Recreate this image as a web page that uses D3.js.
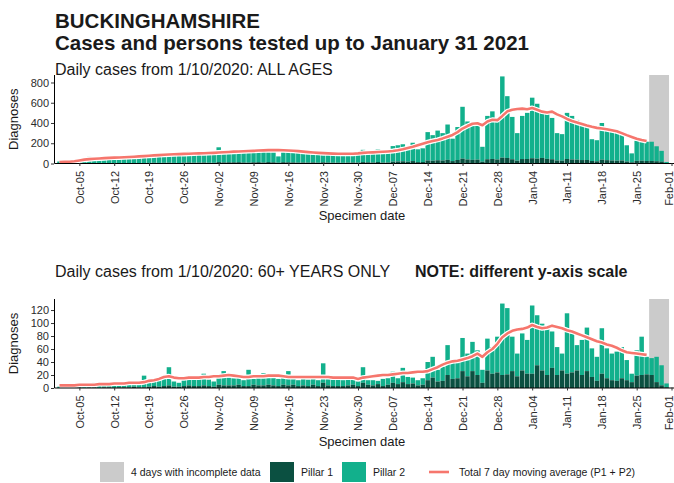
<!DOCTYPE html>
<html><head><meta charset="utf-8">
<script src="https://cdn.jsdelivr.net/npm/d3@7"></script>
<style>body{margin:0;background:#fff}svg{display:block;font-family:"Liberation Sans",Arial,sans-serif}</style>
</head><body><svg id="c" width="674" height="483"></svg>
<script>
// ---------- DATA (daily, starting 1 Oct 2020) ----------
const firstDay = "2020-10-01";
const allAgesPillar1 = [1,1,2,1,2,3,3, 2,3,3,2,4,4,3, 4,5,4,3,6,7,6, 7,8,6,5,9,10,8, 9,10,8,7,14,11,12,
  12,13,10,9,12,13,10, 14,12,8,13,12,11,9, 10,9,11,8,12,9,8, 8,7,9,10,9,14,12, 10,15,9,10,18,20,22,
  18,24,14,15,30,28,32, 30,36,24,35,48,40,36, 38,18,42,45,40,58,55, 42,28,44,45,52,48,55,
  46,42,30,28,45,40,38, 34,35,25,22,38,33,30, 28,30,20,12,26,28,25, 25,22,18,4];
const allAgesPillar2 = [19,14,23,29,33,42,62, 43,47,52,46,51,58,57, 66,67,56,55,74,83,79, 81,84,74,70,91,105,87,
  91,100,90,83,146,104,100, 108,112,100,126,116,117,105, 121,118,62,127,123,114,101, 100,91,94,87,108,89,84,
  87,83,83,90,89,121,83, 88,125,91,95,154,160,168, 142,181,126,135,280,252,293, 270,349,221,325,512,375,349,
  337,147,428,470,400,802,610, 418,272,426,455,598,542,465, 459,408,270,262,455,430,392,
  346,335,215,208,362,307,300, 272,260,160,88,199,192,190, 190,148,107,11];
const allAgesAvg = [15,16,18,22,30,38,43,47,50,53, 56,58,60,62,64,67,70,73,77,80, 83,86,89,91,93,95,97,99,100,101,
  103,105,108,111,114,117,119,121,123,125, 128,130,132,133,132,131,129,126,122,117, 112,108,105,102,100,98,97,96,96,97,
  100,105,108,110,113,116,119,123,130,140, 152,165,180,195,210,222,233,248,265,282, 310,345,370,392,398,378,415,432,428,470,
  515,530,538,542,536,548,530,512,504,512, 485,465,440,420,405,390,375,362,352,345, 338,328,318,300,280,262,245,232,222];

const over60Pillar1 = [0,1,0,0,1,0,1, 1,0,1,1,0,1,1, 1,2,1,1,2,3,2, 3,4,2,2,3,4,3, 3,4,3,2,5,4,4,
  4,5,3,3,5,4,4, 5,4,3,5,4,5,3, 4,3,5,3,8,4,3, 3,3,4,5,3,8,5, 4,6,3,5,8,6,9,
  6,7,4,5,12,16,10, 11,20,14,15,26,18,26, 20,8,27,22,24,20,21, 26,18,27,22,22,35,27,
  20,31,20,27,22,24,27, 20,26,17,11,22,15,12, 11,15,12,9,19,20,21, 20,9,4,1];
const over60Pillar2 = [2,2,2,3,3,3,4, 7,4,4,5,4,5,6, 7,7,6,18,8,9,11, 11,28,8,6,12,12,11, 11,18,10,8,12,22,12,
  11,11,9,25,9,14,19, 13,16,11,12,22,13,9, 10,10,12,9,30,11,10, 11,9,12,13,7,24,7, 8,5,11,10,17,9,22,
  11,9,8,10,28,32,18, 22,46,26,28,51,35,45, 38,20,49,41,55,110,102, 53,35,57,52,105,77,72,
  72,56,43,26,93,60,39, 54,67,44,37,70,46,41, 45,48,31,13,39,59,27, 26,39,31,6];
const over60Avg = [4,4,4,4,5,5,5,5,6,6, 6,7,7,7,8,8,8,9,11,12, 14,17,18,16,15,15,16,16,16,17,
  17,18,18,19,20,19,18,17,17,18, 18,18,19,19,19,18,17,17,17,17, 17,17,17,17,17,16,16,16,16,16,
  14,16,17,18,19,20,20,21,22,23, 23,24,25,25,26,29,32,36,39,41, 42,44,46,49,53,48,55,60,68,78,
  84,88,90,91,93,97,94,92,93,96, 94,92,89,87,84,81,78,75,72,70, 67,65,62,58,55,54,53,52,51];

const tickDates = ["2020-10-05","2020-10-12","2020-10-19","2020-10-26","2020-11-02","2020-11-09","2020-11-16",
  "2020-11-23","2020-11-30","2020-12-07","2020-12-14","2020-12-21","2020-12-28","2021-01-04","2021-01-11",
  "2021-01-18","2021-01-25","2021-02-01"];
const tickLabels = ["Oct-05","Oct-12","Oct-19","Oct-26","Nov-02","Nov-09","Nov-16","Nov-23","Nov-30",
  "Dec-07","Dec-14","Dec-21","Dec-28","Jan-04","Jan-11","Jan-18","Jan-25","Feb-01"];
const incompleteRange = ["2021-01-28","2021-01-31"];
const yTicksAll = [0,200,400,600,800];
const yTicks60 = [0,20,40,60,80,100,120];

// ---------- LAYOUT ----------
const COL = {p1:"#0b5041", p2:"#12b08c", gray:"#cbcbcb", line:"#f6766d", text:"#1a1a1a", axisText:"#2b2b2b"};
const DAY = 864e5;
const parse = d3.utcParse("%Y-%m-%d");
const t0 = parse(firstDay);
const dayDate = i => new Date(+t0 + i*DAY);

const svg = d3.select("#c");
const x = d3.scaleUtc()
  .domain([new Date(+t0 - 1.1*DAY), new Date(+t0 + 123.5*DAY)])
  .range([54, 674]);
const dayW = x(dayDate(1)) - x(dayDate(0));
const bw = dayW*0.9;

function panel(cfg){
  const g = svg.append("g");
  const y = d3.scaleLinear().domain([0, cfg.ymax]).range([cfg.y0, cfg.yTop]);
  const a = parse(incompleteRange[0]), b = parse(incompleteRange[1]);
  g.append("rect").attr("x", x(a)-dayW/2).attr("width", x(b)-x(a)+dayW)
    .attr("y", cfg.yTop).attr("height", cfg.y0-cfg.yTop).attr("fill", COL.gray);
  const rows = cfg.p1.map((v,i)=>({d:dayDate(i), p1:v, p2:cfg.p2[i]}));
  g.append("g").selectAll("rect").data(rows).join("rect")
    .attr("x", d=>x(d.d)-bw/2).attr("width", bw)
    .attr("y", d=>y(d.p1+d.p2)).attr("height", d=>y(d.p1)-y(d.p1+d.p2))
    .attr("fill", COL.p2);
  g.append("g").selectAll("rect").data(rows).join("rect")
    .attr("x", d=>x(d.d)-bw/2).attr("width", bw)
    .attr("y", d=>y(d.p1)).attr("height", d=>y(0)-y(d.p1))
    .attr("fill", COL.p1);
  const line = d3.line().x((v,i)=>x(dayDate(i))).y(v=>y(v));
  g.append("path").attr("d", line(cfg.avg)).attr("fill","none").attr("stroke","#fff")
    .attr("stroke-width",5).attr("stroke-linejoin","round");
  g.append("path").attr("d", line(cfg.avg)).attr("fill","none").attr("stroke",COL.line)
    .attr("stroke-width",2.6).attr("stroke-linejoin","round");
  const ya = g.append("g").attr("transform","translate(54,0)")
    .call(d3.axisLeft(y).tickValues(cfg.yticks).tickSize(3).tickSizeOuter(0).tickPadding(2));
  ya.select(".domain").attr("d", `M0.5,${cfg.yTop}V${cfg.y0}`).attr("stroke","#000");
  ya.selectAll("text").attr("font-size",11).attr("fill",COL.axisText).attr("font-family",null);
  ya.selectAll(".tick line").attr("stroke","#333");
  const xa = g.append("g").attr("transform",`translate(0,${cfg.y0-0.5})`)
    .call(d3.axisBottom(x).tickValues(tickDates.map(parse)).tickFormat((d,i)=>tickLabels[i])
      .tickSize(3).tickSizeOuter(0));
  xa.select(".domain").attr("stroke","#000");
  xa.selectAll(".tick line").attr("stroke","#333");
  xa.selectAll("text").attr("font-size",11).attr("fill",COL.axisText).attr("font-family",null)
    .attr("y",(d,i)=> i===tickLabels.length-1 ? -2.5 : 0)
    .attr("x",-8).attr("dy","0.35em").attr("transform","rotate(-90)")
    .attr("text-anchor","end");
  svg.append("text").attr("transform",`translate(18,${(cfg.yTop+cfg.y0)/2}) rotate(-90)`)
    .attr("text-anchor","middle").attr("font-size",13).attr("fill",COL.text).text("Diagnoses");
  svg.append("text").attr("x",362).attr("y",cfg.xTitleY).attr("text-anchor","middle")
    .attr("font-size",13).attr("fill",COL.text).text("Specimen date");
}

panel({p1:allAgesPillar1, p2:allAgesPillar2, avg:allAgesAvg, ymax:874, yTop:75, y0:163.5, yticks:yTicksAll, xTitleY:220});
panel({p1:over60Pillar1, p2:over60Pillar2, avg:over60Avg, ymax:137, yTop:299, y0:388, yticks:yTicks60, xTitleY:446});

svg.append("text").attr("x",55).attr("y",28).attr("font-size",20.5).attr("font-weight","bold").attr("fill",COL.text).text("BUCKINGHAMSHIRE");
svg.append("text").attr("x",55).attr("y",50).attr("font-size",20.5).attr("font-weight","bold").attr("fill",COL.text).text("Cases and persons tested up to January 31 2021");
svg.append("text").attr("x",55).attr("y",75).attr("font-size",16).attr("fill",COL.text).text("Daily cases from 1/10/2020: ALL AGES");
svg.append("text").attr("x",55).attr("y",277).attr("font-size",16).attr("fill",COL.text).text("Daily cases from 1/10/2020: 60+ YEARS ONLY");
svg.append("text").attr("x",415).attr("y",277).attr("font-size",16).attr("font-weight","bold").attr("fill",COL.text).text("NOTE: different y-axis scale");

const legendItems = [
  {type:"rect", color:COL.gray, label:"4 days with incomplete data", x:100},
  {type:"rect", color:COL.p1, label:"Pillar 1", x:270},
  {type:"rect", color:COL.p2, label:"Pillar 2", x:342},
  {type:"line", color:COL.line, label:"Total 7 day moving average (P1 + P2)", x:429}
];
const lg = svg.append("g");
legendItems.forEach(it=>{
  if(it.type==="rect"){
    lg.append("rect").attr("x",it.x).attr("y",462).attr("width",24).attr("height",20).attr("fill",it.color);
    lg.append("text").attr("x",it.x+31).attr("y",476).attr("font-size",10.5).attr("fill",COL.text).text(it.label);
  } else {
    lg.append("line").attr("x1",it.x).attr("x2",it.x+20).attr("y1",472).attr("y2",472)
      .attr("stroke",it.color).attr("stroke-width",2.6);
    lg.append("text").attr("x",it.x+30).attr("y",476).attr("font-size",10.5).attr("fill",COL.text).text(it.label);
  }
});
</script></body></html>
